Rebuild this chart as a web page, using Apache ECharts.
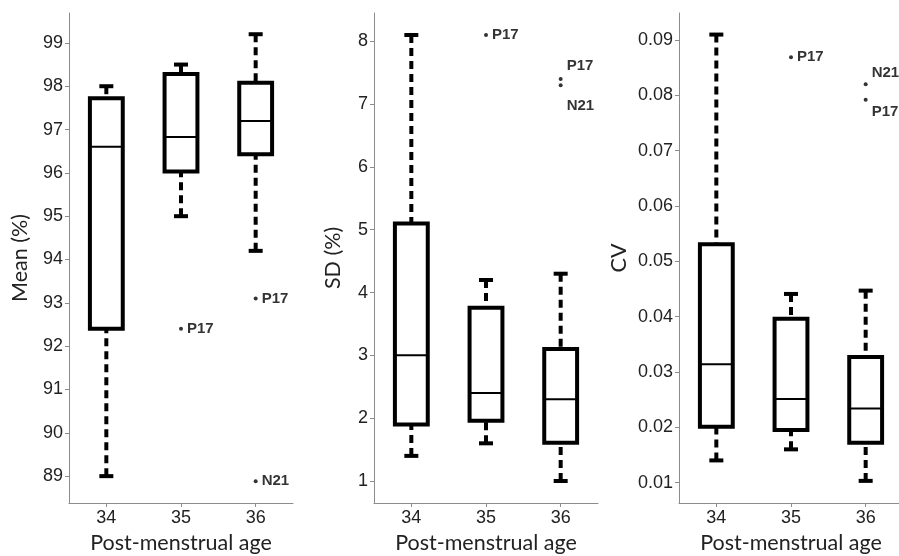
<!DOCTYPE html>
<html>
<head>
<meta charset="utf-8">
<script src="https://cdn.jsdelivr.net/npm/echarts@6/dist/echarts.min.js"></script>
<style>
  html, body { margin: 0; padding: 0; background: #fff; }
  #chart { width: 899px; height: 556px; }
</style>
</head>
<body>
<div id="chart"></div>
<script>
// Post-menstrual age groups
const ages = ['34', '35', '36'];

// Box summaries per age: [lower whisker, Q1, median, Q3, upper whisker]
const meanBoxes = [
  [89.0, 92.4, 96.6, 97.72, 98.0],
  [95.0, 96.03, 96.83, 98.28, 98.5],
  [94.2, 96.43, 97.2, 98.08, 99.2]
];
const sdBoxes = [
  [1.4, 1.9, 3.0, 5.1, 8.1],
  [1.6, 1.96, 2.4, 3.76, 4.2],
  [1.0, 1.61, 2.3, 3.1, 4.3]
];
const cvBoxes = [
  [0.014, 0.0201, 0.0314, 0.0531, 0.091],
  [0.016, 0.0195, 0.0251, 0.0396, 0.0441],
  [0.0103, 0.0172, 0.0234, 0.0327, 0.0447]
];

// Outliers: [age index, value, subject]
const meanOutliers = [[1, 92.4, 'P17'], [2, 93.1, 'P17'], [2, 88.88, 'N21']];
const sdOutliers = [[1, 8.1, 'P17'], [2, 7.4, 'P17'], [2, 7.3, 'N21']];
const cvOutliers = [[1, 0.0869, 'P17'], [2, 0.082, 'N21'], [2, 0.0792, 'P17']];

// Tick values
const meanTicks = [89, 90, 91, 92, 93, 94, 95, 96, 97, 98, 99];
const sdTicks = [1, 2, 3, 4, 5, 6, 7, 8];
const cvTicks = [0.01, 0.02, 0.03, 0.04, 0.05, 0.06, 0.07, 0.08, 0.09];

const AXIS_GRAY = '#8c8c8c';
const TEXT = '#222';
const NAME_FONT = 'Lato, "Open Sans", sans-serif';
const TICK_FONT = '"Liberation Sans", Arial, sans-serif';

const panels = [
  { name: 'Mean (%)', boxes: meanBoxes, outliers: meanOutliers, ticks: meanTicks,
    min: 88.38, max: 99.69, left: 69, nameGap: 38, pairGap: [-12, 16] },
  { name: 'SD (%)', boxes: sdBoxes, outliers: sdOutliers, ticks: sdTicks,
    min: 0.65, max: 8.45, left: 374, nameGap: 30, pairGap: [-13, 21] },
  { name: 'CV', boxes: cvBoxes, outliers: cvOutliers, ticks: cvTicks,
    min: 0.0063, max: 0.0949, left: 679, nameGap: 49, pairGap: [-11, 12] }
];

// Draws one box: dashed whiskers with caps, thick box, thin median line
function renderBox(params, api) {
  const x = api.value(0);
  const lo = api.coord([x, api.value(1)]);
  const q1 = api.coord([x, api.value(2)]);
  const md = api.coord([x, api.value(3)]);
  const q3 = api.coord([x, api.value(4)]);
  const hi = api.coord([x, api.value(5)]);
  const band = api.size([1, 0])[0];
  const half = band * 0.22;
  const cap = 7;
  const cx = lo[0];
  const dashed = { stroke: '#000', lineWidth: 4, lineDash: [8, 5], fill: null };
  const solid = { stroke: '#000', lineWidth: 4, fill: null };
  return {
    type: 'group',
    children: [
      { type: 'line', shape: { x1: cx, y1: hi[1], x2: cx, y2: q3[1] }, style: dashed },
      { type: 'line', shape: { x1: cx, y1: lo[1], x2: cx, y2: q1[1] }, style: dashed },
      { type: 'line', shape: { x1: cx - cap, y1: hi[1], x2: cx + cap, y2: hi[1] }, style: solid },
      { type: 'line', shape: { x1: cx - cap, y1: lo[1], x2: cx + cap, y2: lo[1] }, style: solid },
      { type: 'rect', shape: { x: cx - half, y: q3[1], width: 2 * half, height: q1[1] - q3[1] },
        style: { fill: '#fff', stroke: '#000', lineWidth: 4 } },
      { type: 'line', shape: { x1: cx - half, y1: md[1], x2: cx + half, y2: md[1] },
        style: { stroke: '#000', lineWidth: 2 } }
    ]
  };
}

// Labels of two outliers sitting close together in one group go above / below
function outlierData(list, panel) {
  const span = panel.max - panel.min;
  return list.map(([i, v, who]) => {
    const partner = list.find(o => o[0] === i && o[1] !== v && Math.abs(o[1] - v) < span * 0.05);
    let dy = 0;
    if (partner) dy = v > partner[1] ? panel.pairGap[0] : panel.pairGap[1];
    return { value: [i, v], name: who, label: { offset: [0, dy] } };
  });
}

const grid = [], xAxis = [], yAxis = [], series = [];
panels.forEach((p, k) => {
  grid.push({ left: p.left, top: 13, width: 224, height: 490, containLabel: false, outerBoundsMode: 'none' });
  xAxis.push({
    gridIndex: k, type: 'category', data: ages, boundaryGap: true,
    axisLine: { show: true, lineStyle: { color: AXIS_GRAY, width: 1 } },
    axisTick: { show: true, alignWithLabel: true, length: 4, lineStyle: { color: AXIS_GRAY } },
    axisLabel: { color: TEXT, fontSize: 18, fontFamily: TICK_FONT, margin: 6 },
    splitLine: { show: false },
    name: 'Post-menstrual age', nameLocation: 'middle', nameGap: 27,
    nameTextStyle: { color: TEXT, fontSize: 21.5, fontFamily: NAME_FONT }
  });
  yAxis.push({
    gridIndex: k, type: 'value', min: p.min, max: p.max,
    axisLine: { show: true, lineStyle: { color: AXIS_GRAY, width: 1 } },
    axisTick: { show: true, length: 4, customValues: p.ticks, lineStyle: { color: AXIS_GRAY } },
    axisLabel: { color: TEXT, fontSize: 18, fontFamily: TICK_FONT, margin: 6, customValues: p.ticks },
    splitLine: { show: false },
    name: p.name, nameLocation: 'middle', nameGap: p.nameGap,
    nameTextStyle: { color: TEXT, fontSize: 21.5, fontFamily: NAME_FONT }
  });
  series.push({
    type: 'custom', xAxisIndex: k, yAxisIndex: k,
    renderItem: renderBox,
    encode: { x: 0, y: [1, 2, 3, 4, 5] },
    data: p.boxes.map((b, i) => [i].concat(b)),
    clip: false, silent: true
  });
  series.push({
    type: 'scatter', xAxisIndex: k, yAxisIndex: k,
    symbol: 'circle', symbolSize: 4,
    itemStyle: { color: '#000' },
    label: {
      show: true, position: 'right', distance: 4, formatter: '{b}',
      color: '#000', fontWeight: 'bold', fontSize: 15, fontFamily: TICK_FONT
    },
    data: outlierData(p.outliers, p),
    z: 5, silent: true
  });
});

const chart = echarts.init(document.getElementById('chart'), null, { renderer: 'canvas' });
chart.setOption({ animation: false, backgroundColor: '#fff', grid, xAxis, yAxis, series });
</script>
</body>
</html>
